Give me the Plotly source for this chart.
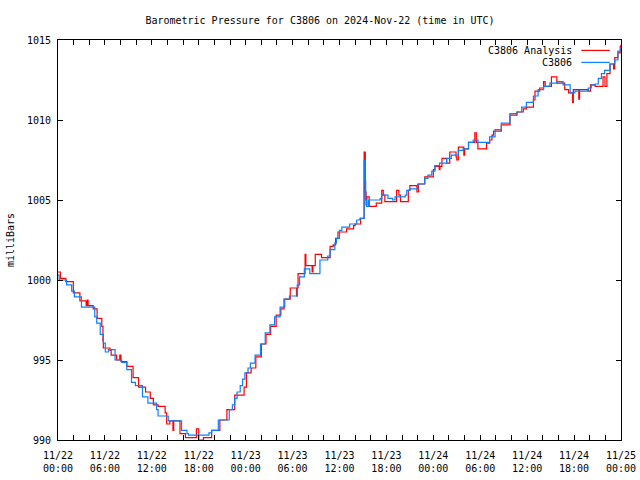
import pandas as pd
import plotly.graph_objects as go

start = "2024-11-22 00:00"
title_text = "Barometric Pressure for C3806 on 2024-Nov-22 (time in UTC)"

# C3806 observations (hours after start, millibars)
obs_hours = [0.0, 0.15, 1.1, 1.75, 2.1, 3.0, 4.7, 4.95, 5.4, 5.8, 6.05, 6.45, 7.3, 8.15, 8.8,
             9.4, 9.9, 10.8, 11.5, 12.6, 12.8, 14.1, 15.8, 16.5, 16.7, 19.3, 19.65, 20.5, 21.9,
             22.3, 22.6, 22.9, 23.3, 23.6, 23.9, 24.3, 24.6, 25.2, 25.9, 26.5, 27.1, 27.7, 28.4,
             29.0, 29.6, 30.6, 30.9, 31.5, 32.2, 33.5, 34.5, 34.8, 35.4, 35.6, 36.0, 36.3, 37.3,
             38.2, 38.6, 39.15, 39.25, 39.35, 39.45, 39.7, 41.2, 41.4, 42.2, 42.8, 43.1, 44.4,
             44.6, 45.0, 46.0, 46.9, 47.3, 47.8, 48.2, 48.8, 49.7, 50.3, 51.2, 51.8, 52.5, 53.1,
             53.7, 55.2, 55.9, 56.7, 57.8, 58.7, 59.3, 59.9, 60.8, 61.4, 62.1, 62.9, 63.8, 64.6,
             65.5, 66.1, 67.8, 68.2, 68.7, 69.1, 69.5, 69.9, 70.6, 71.2, 71.6, 72.0]
obs_mb = [1000.3, 1000.0, 999.7, 999.3, 998.95, 998.3, 997.7, 997.3, 996.6, 996.05, 995.5, 995.65,
          995.0, 994.85, 994.4, 993.6, 993.4, 992.7, 992.3, 991.9, 991.5, 991.2, 990.6, 990.4,
          990.3, 990.45, 990.6, 991.25, 991.9, 992.2, 992.6, 993.0, 993.4, 993.8, 994.2, 994.5,
          994.8, 995.3, 996.0, 996.7, 997.2, 997.7, 998.3, 998.8, 999.0, 999.7, 1000.2, 1000.7,
          1000.4, 1001.25, 1001.5, 1001.9, 1002.3, 1002.6, 1003.1, 1003.3, 1003.5, 1003.75,
          1003.85, 1007.5, 1006.2, 1005.0, 1004.6, 1005.0, 1005.1, 1005.3, 1005.1, 1005.0,
          1005.2, 1005.3, 1005.6, 1005.7, 1006.0, 1006.35, 1006.55, 1006.8, 1007.15, 1007.3,
          1007.6, 1007.8, 1008.1, 1008.2, 1008.6, 1008.75, 1008.6, 1008.95, 1009.4, 1009.8,
          1010.4, 1010.5, 1010.8, 1011.1, 1011.5, 1011.9, 1012.1, 1012.3, 1012.4, 1012.2,
          1011.7, 1011.8, 1012.0, 1012.2, 1012.25, 1012.6, 1012.9, 1013.1, 1013.5, 1013.75,
          1014.3, 1014.5]

# C3806 Analysis (hours after start, millibars)
ana_hours = [0.0, 0.3, 1.0, 1.96, 2.8, 3.6, 3.75, 3.85, 4.5, 5.0, 5.6, 5.75, 5.8, 6.65, 6.8,
             7.5, 7.9, 8.05, 8.8, 9.6, 10.3, 11.2, 11.8, 12.2, 12.8, 13.7, 13.9, 14.3, 14.7,
             14.8, 15.6, 16.3, 17.7, 18.0, 18.6, 19.65, 20.7, 21.6, 22.6, 23.8, 24.1, 24.7,
             25.3, 26.0, 26.6, 27.2, 27.9, 28.5, 28.9, 29.7, 30.5, 30.6, 30.7, 31.6, 31.7, 32.5,
             32.6, 32.9, 33.7, 34.8, 35.2, 35.5, 35.8, 36.9, 37.8, 38.0, 38.7, 39.15, 39.3, 39.4,
             39.5, 39.8, 40.7, 41.4, 41.6, 41.8, 43.3, 43.6, 43.8, 44.8, 45.0, 45.9, 46.1, 46.9,
             48.0, 48.2, 48.75, 48.85, 49.1, 49.7, 50.1, 50.9, 51.0, 51.2, 51.9, 52.0, 52.5,
             53.3, 53.5, 53.7, 54.8, 55.2, 55.5, 55.7, 56.7, 57.8, 58.7, 59.5, 59.9, 60.8, 61.0,
             61.6, 62.1, 62.3, 63.1, 63.8, 64.8, 65.3, 65.8, 65.9, 66.6, 66.7, 67.8, 68.1, 68.7,
             69.7, 69.95, 70.2, 70.6, 71.05, 71.2, 71.6, 71.9, 72.0]
ana_mb = [1000.5, 1000.1, 999.9, 999.2, 998.7, 998.4, 998.75, 998.4, 998.2, 997.6, 997.1, 996.2,
          995.75, 995.6, 995.3, 995.0, 995.3, 994.9, 994.6, 993.9, 993.3, 993.0, 992.6, 992.2,
          992.1, 991.7, 991.0, 991.2, 990.6, 991.2, 990.4, 990.15, 990.7, 990.0, 990.15, 990.6,
          991.25, 991.9, 992.8, 993.3, 994.2, 994.5, 995.2, 996.0, 996.6, 997.1, 997.8, 998.2,
          998.8, 999.5, 999.0, 999.5, 1000.4, 1001.6, 1000.9, 1000.5, 1000.9, 1001.6, 1001.4,
          1002.1, 1002.2, 1002.6, 1003.0, 1003.2, 1003.4, 1003.5, 1003.85, 1008.0, 1005.5,
          1004.7, 1005.2, 1004.6, 1004.8, 1005.6, 1005.3, 1004.9, 1005.6, 1005.3, 1004.9,
          1005.6, 1005.9, 1005.5, 1006.0, 1006.45, 1006.9, 1007.1, 1006.9, 1007.1, 1007.6,
          1007.3, 1008.0, 1007.7, 1007.5, 1008.3, 1007.8, 1008.2, 1008.6, 1009.2, 1008.6,
          1008.2, 1008.55, 1008.75, 1009.06, 1009.3, 1009.7, 1010.3, 1010.5, 1010.7, 1010.8,
          1011.25, 1011.8, 1012.0, 1012.4, 1012.1, 1012.7, 1012.3, 1011.9, 1011.7, 1011.1,
          1011.9, 1011.3, 1011.9, 1011.8, 1012.2, 1012.1, 1012.7, 1012.1, 1012.9, 1013.5,
          1013.2, 1013.9, 1014.2, 1014.6, 1014.7]

tick_labels = ["11/22<br>00:00", "11/22<br>06:00", "11/22<br>12:00", "11/22<br>18:00",
               "11/23<br>00:00", "11/23<br>06:00", "11/23<br>12:00", "11/23<br>18:00",
               "11/24<br>00:00", "11/24<br>06:00", "11/24<br>12:00", "11/24<br>18:00",
               "11/25<br>00:00"]

base = pd.Timestamp(start)
obs_x = [base + pd.Timedelta(hours=h) for h in obs_hours]
ana_x = [base + pd.Timedelta(hours=h) for h in ana_hours]

tickvals = [base + pd.Timedelta(hours=2 * i) for i in range(37)]
ticktext = [tick_labels[i // 3] if i % 3 == 0 else "" for i in range(37)]

FONT = "DejaVu Sans Mono"
RED = "#ff0000"
BLUE = "#0a80ff"

fig = go.Figure()
fig.add_trace(go.Scatter(x=ana_x, y=ana_mb, mode="lines", name="C3806 Analysis",
                         line=dict(color=RED, width=1.2, shape="hv")))
fig.add_trace(go.Scatter(x=obs_x, y=obs_mb, mode="lines", name="C3806",
                         line=dict(color=BLUE, width=1.2, shape="hv")))

fig.update_layout(
    width=640, height=480,
    margin=dict(l=58, r=19, t=40, b=40),
    paper_bgcolor="white", plot_bgcolor="white",
    showlegend=False,
    font=dict(family=FONT, size=10, color="black"),
    title=dict(text=title_text, x=0.5, xanchor="center", y=1 - 20 / 480, yanchor="middle",
               font=dict(family=FONT, size=10, color="black")),
    xaxis=dict(range=[tickvals[0], tickvals[-1]], tickmode="array", tickvals=tickvals,
               ticktext=ticktext, ticks="inside", ticklen=5, tickcolor="black",
               showline=True, linecolor="black", linewidth=1, mirror="ticks",
               showgrid=False, zeroline=False, tickangle=0, automargin=False,
               ticklabelstandoff=6),
    yaxis=dict(range=[990, 1015], dtick=5, tick0=990, ticks="inside", ticklen=5,
               tickcolor="black", showline=True, linecolor="black", linewidth=1,
               mirror="ticks", showgrid=False, zeroline=False, automargin=False,
               ticklabelstandoff=4,
               title=dict(text="milliBars", standoff=10, font=dict(family=FONT, size=10))),
)

# Legend (text on the left, sample line on the right, as in the reference)
legend_items = [("C3806 Analysis", RED, 0.974), ("C3806", BLUE, 0.944)]
for label, color, yy in legend_items:
    fig.add_annotation(x=0.9165, y=yy, xref="paper", yref="paper", text=label,
                       showarrow=False, xanchor="right", yanchor="middle",
                       font=dict(family=FONT, size=10, color="black"))
    fig.add_shape(type="line", xref="paper", yref="paper", x0=0.9295, x1=0.980,
                  y0=yy, y1=yy, line=dict(color=color, width=1.2))

fig.write_html("out.html", config={"displayModeBar": False})

# remove the browser's default page margin so the figure sits at the window origin
with open("out.html", "r", encoding="utf-8") as f:
    html = f.read()
html = html.replace("<body>", "<body style=\"margin:0;padding:0;\">", 1)
with open("out.html", "w", encoding="utf-8") as f:
    f.write(html)
